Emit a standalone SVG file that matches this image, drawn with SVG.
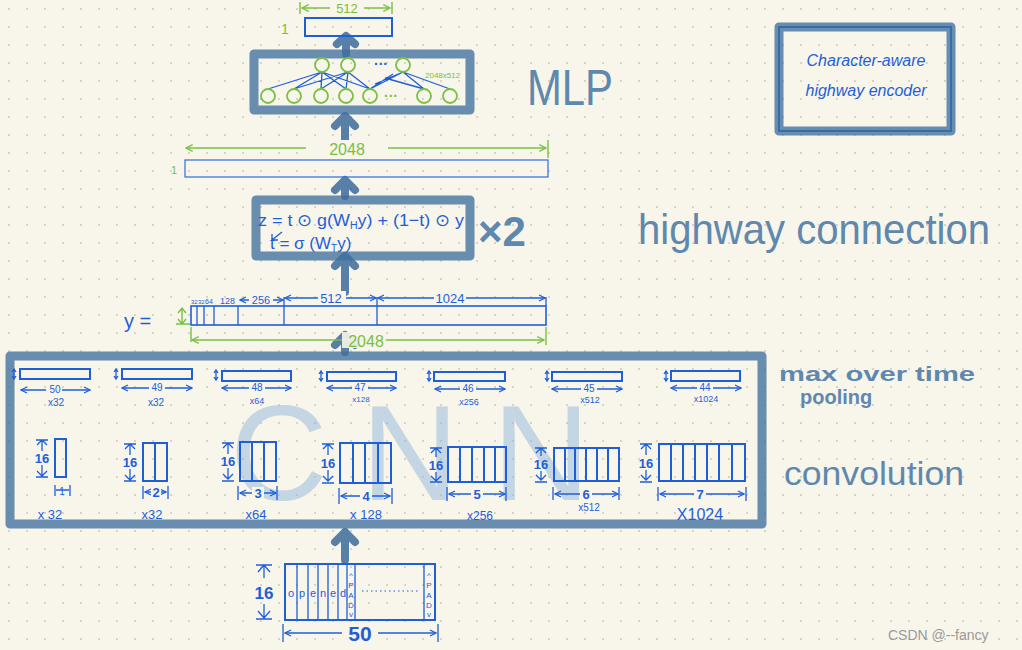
<svg xmlns="http://www.w3.org/2000/svg" width="1022" height="650" viewBox="0 0 1022 650">
<defs>
<pattern id="dots" x="8" y="8" width="18" height="18" patternUnits="userSpaceOnUse"><circle cx="1" cy="1" r="0.9" fill="#c8c4b4"/></pattern>
<marker id="ab" viewBox="0 0 10 10" refX="9" refY="5" markerWidth="5" markerHeight="5" orient="auto-start-reverse"><path d="M1,1 L9,5 L1,9" fill="none" stroke="#1e5fd8" stroke-width="1.6"/></marker>
<marker id="ag" viewBox="0 0 10 10" refX="9" refY="5" markerWidth="6" markerHeight="6" orient="auto-start-reverse"><path d="M1,1 L9,5 L1,9" fill="none" stroke="#78c043" stroke-width="1.4"/></marker>
<style>
.thick{fill:none;stroke:#3f6f9e;stroke-opacity:0.78;stroke-width:9;stroke-linecap:round;stroke-linejoin:round}
.arr{fill:none;stroke:#2f6396;stroke-opacity:0.8;stroke-width:8;stroke-linecap:round;stroke-linejoin:round}
.bl{fill:none;stroke:#1e5fd8;stroke-width:2}
.bt{fill:none;stroke:#1e5fd8;stroke-width:1.3}
.dim{fill:none;stroke:#1e5fd8;stroke-width:1.5;marker-start:url(#ab);marker-end:url(#ab)}
.gdim{fill:none;stroke:#78c043;stroke-width:1.4;marker-start:url(#ag);marker-end:url(#ag)}
.gl{fill:none;stroke:#78c043;stroke-width:1.4}
.circ{fill:none;stroke:#7ac043;stroke-width:1.8}
.t{font-family:"Liberation Sans",Arial,sans-serif;fill:#1e5fd8}
.tg{font-family:"Liberation Sans",Arial,sans-serif;fill:#78c043}
.tb{font-family:"Liberation Sans",Arial,sans-serif;fill:#5f88ae}
.s9{font-size:9px}
.s11{font-size:10px}
.s13{font-size:13px;font-weight:bold}
</style>
</defs>
<rect width="1022" height="650" fill="#f8f5ea"/>
<rect width="1022" height="650" fill="url(#dots)"/>

<!-- faint CNN -->
<text x="230" y="500" font-family="Liberation Sans,Arial,sans-serif" font-size="135" textLength="360" lengthAdjust="spacing" fill="#8fb5dc" fill-opacity="0.5">CNN</text>

<!-- connectors -->
<g id="connectors">
<path class="arr" d="M346,54 L346,38 M337,44 L346,36 L355,44"/>
<path class="arr" d="M345,148 L345,116 M335,126 L345,116 L355,126"/>
<path class="arr" d="M345,196 L345,182 M335,190 L345,180 L355,190"/>
<path class="arr" d="M345,292 L345,258 M335,266 L345,256 L355,266"/>
<path class="arr" d="M345,352 L345,337 M335,345 L345,335 L355,345"/>
<path class="arr" d="M345,560 L345,532 M335,542 L345,532 L355,542"/>
</g>

<!-- output -->
<g id="output">
<rect x="305" y="18" width="87" height="18" class="bl" stroke-width="3"/>
<path class="gdim" d="M302,8 L390,8"/>
<path class="gl" d="M300,2 L300,14 M392,2 L392,14"/>
<rect x="330" y="2" width="34" height="12" fill="#f8f5ea"/>
<text x="347" y="13" class="tg" font-size="13" text-anchor="middle">512</text>
<text x="281" y="34" class="tg" font-size="14">1</text>
</g>

<!-- MLP -->
<g id="mlp">
<rect x="254" y="54" width="216" height="56" class="thick"/>
<g class="bt" stroke-width="0.9">
<path d="M322,72 L268,89 M322,72 L294,89 M322,72 L321,89 M322,72 L346,89 M322,72 L370,89 M348,72 L321,89 M348,72 L346,89 M348,72 L370,89 M348,72 L294,89 M403,72 L370,89 M403,72 L424,89 M403,72 L450,89 M403,72 L375,84 M370,89 L393,74 M424,89 L385,78"/>
</g>
<circle cx="322" cy="65" r="7" class="circ"/>
<circle cx="348" cy="65" r="7" class="circ"/>
<circle cx="403" cy="65" r="7" class="circ"/>
<text x="374" y="69" class="t" font-size="14" font-weight="bold">···</text>
<circle cx="268" cy="96" r="7" class="circ"/>
<circle cx="294" cy="96" r="7" class="circ"/>
<circle cx="321" cy="96" r="7" class="circ"/>
<circle cx="346" cy="96" r="7" class="circ"/>
<circle cx="370" cy="96" r="7" class="circ"/>
<text x="384" y="101" class="tg" font-size="14" font-weight="bold">···</text>
<circle cx="424" cy="96" r="7" class="circ"/>
<circle cx="450" cy="96" r="7" class="circ"/>
<text x="425" y="78" class="tg" font-size="8">2048x512</text>
<text x="527" y="105" class="tb" font-size="50" textLength="86" lengthAdjust="spacingAndGlyphs">MLP</text>
</g>

<!-- 2048 bar -->
<g id="bar2048">
<path class="gdim" d="M186,148 L546,148"/>
<path class="gl" d="M548,140 L548,158"/>
<rect x="306" y="140" width="82" height="16" fill="#f8f5ea"/>
<text x="347" y="155" class="tg" font-size="16" text-anchor="middle">2048</text>
<text x="171" y="174" class="tg" font-size="11">1</text>
<rect x="185" y="160" width="363" height="17" fill="none" stroke="#2b6fe0" stroke-width="1.2"/>
</g>

<!-- highway -->
<g id="highway">
<rect x="256" y="200" width="214" height="56" class="thick"/>
<text x="258" y="226" class="t" font-size="17" textLength="206" lengthAdjust="spacingAndGlyphs">z = t ⊙ g(W<tspan font-size="10" dy="3">H</tspan><tspan dy="-3">y) + (1−t) ⊙ y</tspan></text>
<text x="270" y="249" class="t" font-size="17">t = σ (W<tspan font-size="10" dy="3">T</tspan><tspan dy="-3">y)</tspan></text>
<path class="bt" d="M282,232 L272,240 M272,240 L272,234 M272,240 L278,240"/>
<text x="478" y="246" class="tb" font-size="42" font-weight="bold">×2</text>
<text x="638" y="244" class="tb" font-size="42" textLength="352" lengthAdjust="spacingAndGlyphs">highway connection</text>
</g>

<!-- y vector -->
<g id="yvec">
<text x="124" y="328" class="t" font-size="20">y =</text>
<rect x="191" y="306" width="355" height="19" fill="none" stroke="#1e5fd8" stroke-width="1.6"/>
<path class="bt" d="M197,306 L197,325 M204,306 L204,325 M214,306 L214,325 M238,306 L238,325 M284,297 L284,325 M377,297 L377,325 M546,297 L546,306"/>
<path class="gl" d="M182,309 L182,323 M178,313 L182,308 L186,313 M178,319 L182,324 L186,319 M176,324 L190,324"/>
<text x="191" y="304" class="t" font-size="6">32</text>
<text x="198" y="304" class="t" font-size="6">32</text>
<text x="205" y="304" class="t" font-size="7">64</text>
<text x="220" y="304" class="t" font-size="9">128</text>
<path class="dim" d="M240,300 L283,300"/>
<rect x="249" y="294" width="24" height="10" fill="#f8f5ea"/>
<text x="261" y="304" class="t" font-size="11" text-anchor="middle">256</text>
<path class="dim" d="M285,298 L376,298"/>
<rect x="318" y="291" width="28" height="12" fill="#f8f5ea"/>
<text x="331" y="303" class="t" font-size="13" text-anchor="middle">512</text>
<path class="dim" d="M378,298 L545,298"/>
<rect x="434" y="291" width="32" height="12" fill="#f8f5ea"/>
<text x="450" y="303" class="t" font-size="13" text-anchor="middle">1024</text>
<path class="gdim" d="M192,340 L544,340"/>
<path class="gl" d="M191,327 L191,342 M546,327 L546,345"/>
<rect x="342" y="332" width="44" height="16" fill="#f8f5ea" fill-opacity="0.9"/>
<text x="366" y="347" class="tg" font-size="16" text-anchor="middle">2048</text>
</g>

<!-- CNN box -->
<g id="cnn">
<rect x="10" y="356" width="752" height="168" class="thick" stroke-width="10"/>
</g>

<!-- pooling -->
<g id="pooling">
<g id="p1"><rect x="20" y="369" width="70" height="10" class="bl" stroke-width="1.5"/><path class="bt" d="M14,370 L14,378 M12,372 L14,369 L16,372 M12,376 L14,379 L16,376"/><path class="dim" d="M21,390 L90,390"/><rect x="46" y="384" width="16" height="10" fill="#f8f5ea"/><text x="55" y="393" class="t s11" text-anchor="middle">50</text><text x="56" y="406" class="t s11" text-anchor="middle">x32</text></g>
<g id="p2"><rect x="122" y="369" width="70" height="10" class="bl" stroke-width="1.5"/><path class="bt" d="M116,370 L116,378 M114,372 L116,369 L118,372 M114,376 L116,379 L118,376"/><path class="dim" d="M122,388 L192,388"/><rect x="149" y="382" width="16" height="10" fill="#f8f5ea"/><text x="157" y="391" class="t s11" text-anchor="middle">49</text><text x="156" y="406" class="t s11" text-anchor="middle">x32</text></g>
<g id="p3"><rect x="222" y="371" width="69" height="10" class="bl" stroke-width="1.5"/><path class="bt" d="M216,371 L216,379 M214,373 L216,370 L218,373 M214,377 L216,380 L218,377"/><path class="dim" d="M222,388 L291,388"/><rect x="249" y="382" width="16" height="10" fill="#f8f5ea"/><text x="257" y="391" class="t s11" text-anchor="middle">48</text><text x="257" y="404" class="t s9" text-anchor="middle">x64</text></g>
<g id="p4"><rect x="327" y="372" width="69" height="9" class="bl" stroke-width="1.5"/><path class="bt" d="M321,372 L321,380 M319,374 L321,371 L323,374 M319,378 L321,381 L323,378"/><path class="dim" d="M327,388 L396,388"/><rect x="352" y="382" width="16" height="10" fill="#f8f5ea"/><text x="360" y="391" class="t s11" text-anchor="middle">47</text><text x="361" y="402" class="t" font-size="8" text-anchor="middle">x128</text></g>
<g id="p5"><rect x="434" y="372" width="71" height="9" class="bl" stroke-width="1.5"/><path class="bt" d="M429,372 L429,380 M427,374 L429,371 L431,374 M427,378 L429,381 L431,378"/><path class="dim" d="M435,389 L505,389"/><rect x="460" y="383" width="16" height="10" fill="#f8f5ea"/><text x="468" y="392" class="t s11" text-anchor="middle">46</text><text x="469" y="405" class="t s9" text-anchor="middle">x256</text></g>
<g id="p6"><rect x="552" y="372" width="70" height="9" class="bl" stroke-width="1.5"/><path class="bt" d="M547,372 L547,380 M545,374 L547,371 L549,374 M545,378 L547,381 L549,378"/><path class="dim" d="M552,389 L622,389"/><rect x="581" y="383" width="16" height="10" fill="#f8f5ea"/><text x="589" y="392" class="t s11" text-anchor="middle">45</text><text x="590" y="403" class="t s9" text-anchor="middle">x512</text></g>
<g id="p7"><rect x="671" y="371" width="69" height="10" class="bl" stroke-width="1.5"/><path class="bt" d="M666,372 L666,380 M664,374 L666,371 L668,374 M664,378 L666,381 L668,378"/><path class="dim" d="M671,388 L741,388"/><rect x="697" y="382" width="16" height="10" fill="#f8f5ea"/><text x="705" y="391" class="t s11" text-anchor="middle">44</text><text x="706" y="402" class="t s9" text-anchor="middle">x1024</text></g>
<text x="779" y="381" class="tb" font-size="20" font-weight="bold" textLength="196" lengthAdjust="spacingAndGlyphs">max over time</text>
<text x="800" y="404" class="tb" font-size="20" font-weight="bold">pooling</text>
</g>

<!-- convolution -->
<g id="convolution">
<g id="c1"><rect x="55" y="439" width="11" height="38" class="bl" stroke-width="2.2"/><path class="bt" stroke-width="2" d="M42,440 L42,451 M42,465 L42,476 M37,445 L42,440 L47,445 M37,471 L42,476 L47,471 M36,440 L48,440 M36,477 L48,477"/><text x="42" y="463" class="t s13" text-anchor="middle">16</text><path class="bt" stroke-width="1.8" d="M55,485 L55,496 M70,485 L70,496 M56,490 L69,490"/><text x="62" y="495" class="t" font-size="10" text-anchor="middle">1</text><text x="50" y="519" class="t" font-size="13" text-anchor="middle">x 32</text></g>
<g id="c2"><rect x="143" y="443" width="24" height="38" class="bl" stroke-width="2.2"/><path class="bl" d="M155,443 L155,481"/><path class="bt" stroke-width="2" d="M130,444 L130,455 M130,469 L130,480 M125,449 L130,444 L135,449 M125,475 L130,480 L135,475 M124,444 L136,444 M124,481 L136,481"/><text x="130" y="467" class="t s13" text-anchor="middle">16</text><path class="dim" stroke-width="1.8" d="M145,492 L166,492"/><path class="bt" stroke-width="1.8" d="M143,486 L143,499 M168,486 L168,499"/><rect x="151" y="486" width="10" height="12" fill="#f8f5ea"/><text x="156" y="497" class="t s13" text-anchor="middle">2</text><text x="152" y="519" class="t" font-size="13" text-anchor="middle">x32</text></g>
<g id="c3"><rect x="240" y="442" width="36" height="39" class="bl" stroke-width="2.2"/><path class="bl" d="M252,442 L252,481 M264,442 L264,481"/><path class="bt" stroke-width="2" d="M228,443 L228,454 M228,468 L228,479 M223,448 L228,443 L233,448 M223,474 L228,479 L233,474 M222,443 L234,443 M222,481 L234,481"/><text x="228" y="466" class="t s13" text-anchor="middle">16</text><path class="dim" stroke-width="1.8" d="M240,493 L276,493"/><path class="bt" stroke-width="1.8" d="M238,486 L238,500 M277,486 L277,500"/><rect x="252" y="487" width="12" height="12" fill="#f8f5ea"/><text x="258" y="498" class="t s13" text-anchor="middle">3</text><text x="256" y="519" class="t" font-size="13" text-anchor="middle">x64</text></g>
<g id="c4"><rect x="340" y="443" width="51" height="40" class="bl" stroke-width="2.2"/><path class="bl" d="M353,443 L353,483 M365,443 L365,483 M378,443 L378,483"/><path class="bt" stroke-width="2" d="M328,444 L328,455 M328,470 L328,481 M323,449 L328,444 L333,449 M323,476 L328,481 L333,476 M322,444 L334,444 M322,483 L334,483"/><text x="328" y="468" class="t s13" text-anchor="middle">16</text><path class="dim" stroke-width="1.8" d="M341,496 L390,496"/><path class="bt" stroke-width="1.8" d="M339,488 L339,504 M392,488 L392,504"/><rect x="360" y="490" width="12" height="12" fill="#f8f5ea"/><text x="366" y="501" class="t s13" text-anchor="middle">4</text><text x="366" y="519" class="t" font-size="13" text-anchor="middle">x 128</text></g>
<g id="c5"><rect x="448" y="447" width="58" height="35" class="bl" stroke-width="2.2"/><path class="bl" d="M460,447 L460,482 M472,447 L472,482 M484,447 L484,482 M495,447 L495,482"/><path class="bt" stroke-width="2" d="M436,448 L436,457 M436,472 L436,481 M431,453 L436,448 L441,453 M431,476 L436,481 L441,476 M430,448 L442,448 M430,482 L442,482"/><text x="436" y="470" class="t s13" text-anchor="middle">16</text><path class="dim" stroke-width="1.8" d="M449,494 L505,494"/><path class="bt" stroke-width="1.8" d="M447,487 L447,501 M506,487 L506,501"/><rect x="471" y="488" width="12" height="12" fill="#f8f5ea"/><text x="477" y="499" class="t s13" text-anchor="middle">5</text><text x="480" y="520" class="t" font-size="12" text-anchor="middle">x256</text></g>
<g id="c6"><rect x="554" y="448" width="65" height="33" class="bl" stroke-width="2.2"/><path class="bl" d="M565,448 L565,481 M575,448 L575,481 M586,448 L586,481 M597,448 L597,481 M608,448 L608,481"/><path class="bt" stroke-width="2" d="M541,448 L541,456 M541,471 L541,480 M536,453 L541,448 L546,453 M536,475 L541,480 L546,475 M535,448 L547,448 M535,482 L547,482"/><text x="541" y="469" class="t s13" text-anchor="middle">16</text><path class="dim" stroke-width="1.8" d="M555,494 L618,494"/><path class="bt" stroke-width="1.8" d="M553,487 L553,500 M619,487 L619,500"/><rect x="580" y="488" width="12" height="12" fill="#f8f5ea"/><text x="586" y="499" class="t s13" text-anchor="middle">6</text><text x="589" y="511" class="t" font-size="10" text-anchor="middle">x512</text></g>
<g id="c7"><rect x="659" y="444" width="86" height="37" class="bl" stroke-width="2.2"/><path class="bl" d="M671,444 L671,481 M683,444 L683,481 M695,444 L695,481 M707,444 L707,481 M719,444 L719,481 M732,444 L732,481"/><path class="bt" stroke-width="2" d="M646,444 L646,455 M646,470 L646,480 M641,449 L646,444 L651,449 M641,475 L646,480 L651,475 M640,444 L652,444 M640,482 L652,482"/><text x="646" y="468" class="t s13" text-anchor="middle">16</text><path class="dim" stroke-width="1.8" d="M660,494 L744,494"/><path class="bt" stroke-width="1.8" d="M658,487 L658,501 M746,487 L746,501"/><rect x="694" y="488" width="12" height="12" fill="#f8f5ea"/><text x="700" y="499" class="t s13" text-anchor="middle">7</text><text x="700" y="520" class="t" font-size="16" text-anchor="middle">X1024</text></g>
<text x="784" y="485" class="tb" font-size="34" textLength="180" lengthAdjust="spacingAndGlyphs">convolution</text>
</g>

<!-- input -->
<g id="input">
<rect x="285" y="564" width="150" height="56" class="bl" stroke-width="2.5"/>
<path class="bt" d="M297,564 L297,620 M308,564 L308,620 M318,564 L318,620 M328,564 L328,620 M338,564 L338,620 M347,564 L347,620 M355,564 L355,620 M424,564 L424,620"/>
<g class="t" font-size="11" text-anchor="middle">
<text x="291" y="597">o</text><text x="302" y="597">p</text><text x="313" y="597">e</text><text x="323" y="597">n</text><text x="333" y="597">e</text><text x="343" y="597">d</text>
</g>
<g class="t" font-size="8" text-anchor="middle">
<text x="351" y="578">^</text><text x="351" y="588">P</text><text x="351" y="598">A</text><text x="351" y="608">D</text><text x="351" y="617">v</text>
<text x="429" y="578">^</text><text x="429" y="588">P</text><text x="429" y="598">A</text><text x="429" y="608">D</text><text x="429" y="617">v</text>
</g>
<path d="M362,591 L418,591" stroke="#1e5fd8" stroke-width="1.2" stroke-dasharray="1.5,3"/>
<path class="bt" stroke-width="2.2" d="M264,566 L264,578 M264,604 L264,617 M258,572 L264,565 L270,572 M258,611 L264,618 L270,611 M256,565 L272,565 M256,619 L272,619"/>
<text x="264" y="599" class="t" font-size="17" font-weight="bold" text-anchor="middle">16</text>
<path class="dim" stroke-width="2.2" d="M285,633 L436,633"/>
<path class="bt" stroke-width="2" d="M283,624 L283,642 M438,624 L438,642"/>
<rect x="342" y="624" width="36" height="18" fill="#f8f5ea"/>
<text x="360" y="641" class="t" font-size="21" font-weight="bold" text-anchor="middle">50</text>
</g>

<!-- legend -->
<g id="legend">
<rect x="779" y="27" width="172" height="104" fill="none" stroke="#1e5fd8" stroke-width="2"/>
<rect x="779" y="27" width="172" height="104" class="thick" stroke-width="8"/>
<text x="866" y="66" class="t" font-size="16" text-anchor="middle" font-style="italic">Character-aware</text>
<text x="866" y="96" class="t" font-size="16" text-anchor="middle" font-style="italic">highway encoder</text>
</g>

<text x="888" y="640" font-family="Liberation Sans,Arial,sans-serif" font-size="14" fill="#9a9a9a">CSDN @--fancy</text>
</svg>
